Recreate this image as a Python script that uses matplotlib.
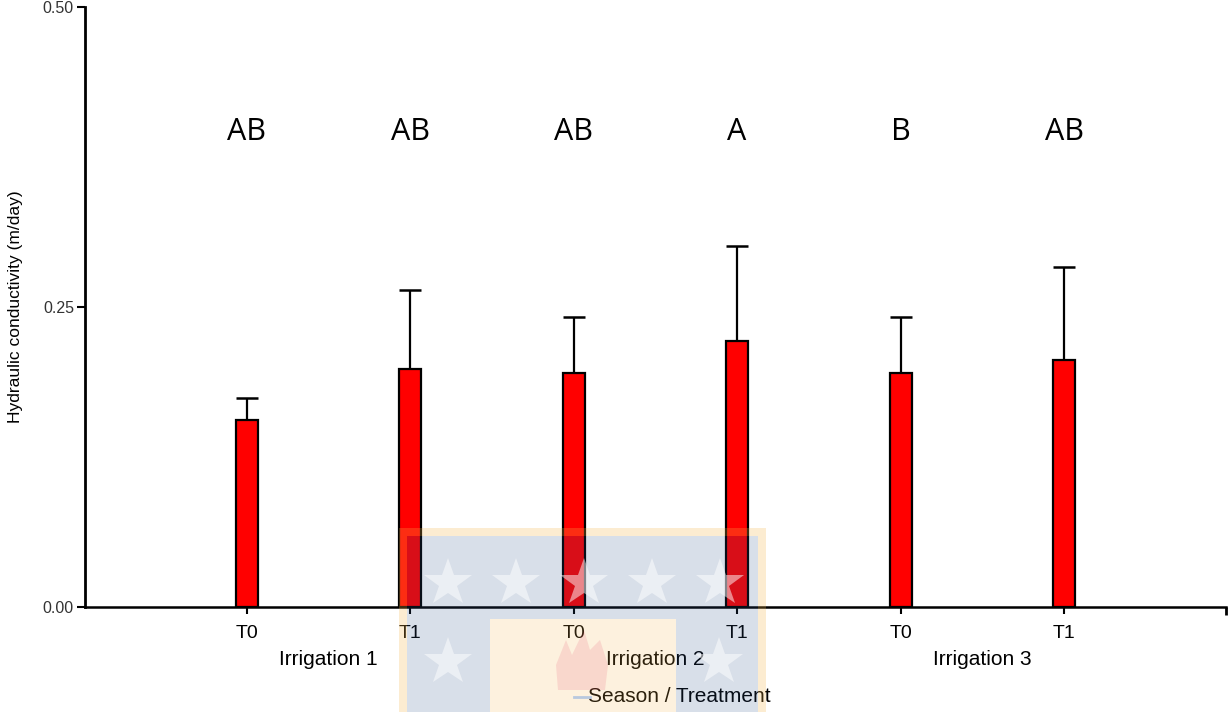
import numpy as np
import matplotlib.pyplot as plt
from matplotlib.patches import Rectangle, Polygon

# valeurs
seasons = ['Irrigation 1', 'Irrigation 2', 'Irrigation 3']
treatments = ['T0', 'T1', 'T0', 'T1', 'T0', 'T1']
conductivity = [0.156, 0.198, 0.195, 0.222, 0.195, 0.206]
err_up = [0.018, 0.066, 0.047, 0.079, 0.047, 0.077]
letters = ['AB', 'AB', 'AB', 'A', 'B', 'AB']

W, H = 1228, 712
fig = plt.figure(figsize=(W/100, H/100), dpi=100)
ax = fig.add_axes((85/W, (H-607)/H, (1226-85)/W, 600/H))

x = np.arange(1, len(conductivity) + 1)
ax.bar(x, conductivity, width=0.135, color='#ff0000', edgecolor='black', linewidth=1.6, zorder=2)
ax.errorbar(x, conductivity, yerr=[np.zeros(len(err_up)), err_up], fmt='none',
            ecolor='black', elinewidth=1.6, capsize=8, capthick=1.8, zorder=1)

for xi, lab in zip(x, letters):
    ax.text(xi, 0.396, lab, ha='center', va='center', fontsize=22, family='Open Sans')

ax.set_xlim(0.012, 6.99)
ax.set_ylim(0, 0.5)
ax.set_yticks([0, 0.25, 0.5])
ax.set_yticklabels(['0.00', '0.25', '0.50'], fontsize=11.5, family='Liberation Sans', color='#333333')
ax.set_xticks(x)
ax.set_xticklabels(treatments, fontsize=14, family='Liberation Sans')
# petit tick au bout de l'axe x, comme dans l'original
ax.set_xticks([6.99], minor=True)
ax.tick_params(axis='x', which='minor', direction='out', length=6, width=2)
ax.tick_params(axis='y', direction='out', length=6, width=1.5, pad=2)
ax.tick_params(axis='x', which='major', direction='out', length=5, width=1.5, pad=8)
for s in ['top', 'right']:
    ax.spines[s].set_visible(False)
ax.spines['left'].set_linewidth(2)
ax.spines['bottom'].set_linewidth(1.8)
ax.set_ylabel('Hydraulic conductivity (m/day)', fontsize=12.5, family='Liberation Sans', labelpad=14)

# noms des saisons, centrés sous chaque paire
for k, s in enumerate(seasons):
    ax.text(x[2*k] + 0.5, -0.0435, s, ha='center', va='center', fontsize=15,
            family='Liberation Sans', transform=ax.transData, clip_on=False)
ax.text(0.5206, -0.15, 'Season / Treatment', ha='center', va='center', fontsize=15,
        family='Liberation Sans', transform=ax.transAxes)

# filigrane (logo) par-dessus
def fx(p):
    return p / W

def fy(p):
    return (H - p) / H

def frame(x0, y0, x1, y1):
    return [(fx(x0), fy(y0)), (fx(x1), fy(y0)), (fx(x1), fy(y1)), (fx(x0), fy(y1))]

orange = '#f5b54a'
# bord orange (cadre autour du bleu)
outer = frame(399, 528, 766, 712)
inner = frame(407, 536, 758, 712)
border = [outer[3], outer[0], outer[1], outer[2], inner[2], inner[1], inner[0], inner[3]]
fig.add_artist(Polygon(border, closed=True, transform=fig.transFigure,
                       facecolor=orange, alpha=0.25, edgecolor='none', zorder=5))
# bleu en U autour du centre clair
blue = [(fx(407), fy(712)), (fx(407), fy(536)), (fx(758), fy(536)), (fx(758), fy(712)),
        (fx(676), fy(712)), (fx(676), fy(619)), (fx(490), fy(619)), (fx(490), fy(712))]
fig.add_artist(Polygon(blue, closed=True, transform=fig.transFigure,
                       facecolor='#2a4f8a', alpha=0.18, edgecolor='none', zorder=5))
fig.add_artist(Rectangle((fx(490), fy(712)), fx(186), 93/H, transform=fig.transFigure,
                         facecolor=orange, alpha=0.18, edgecolor='none', zorder=5))
star_x = [448, 516, 584, 652, 720, 448, 719]
star_y = [583, 583, 583, 583, 583, 662, 662]
fig.add_artist(plt.Line2D([fx(sx) for sx in star_x], [fy(sy) for sy in star_y],
                          transform=fig.transFigure, linestyle='none', marker='*',
                          markersize=36, color='white', alpha=0.5, markeredgewidth=0, zorder=6))
flame = [(558, 690), (556, 665), (566, 640), (572, 655), (584, 630), (590, 650),
         (600, 640), (608, 665), (605, 690)]
fig.add_artist(Polygon([(fx(a), fy(b)) for a, b in flame], closed=True, transform=fig.transFigure,
                       facecolor='#e0204a', alpha=0.12, edgecolor='none', zorder=6))
fig.add_artist(plt.Line2D([fx(574), fx(590)], [fy(697), fy(697)], transform=fig.transFigure,
                          color='#b8c8de', linewidth=2, zorder=6))

fig.savefig('out.png', dpi=100)
